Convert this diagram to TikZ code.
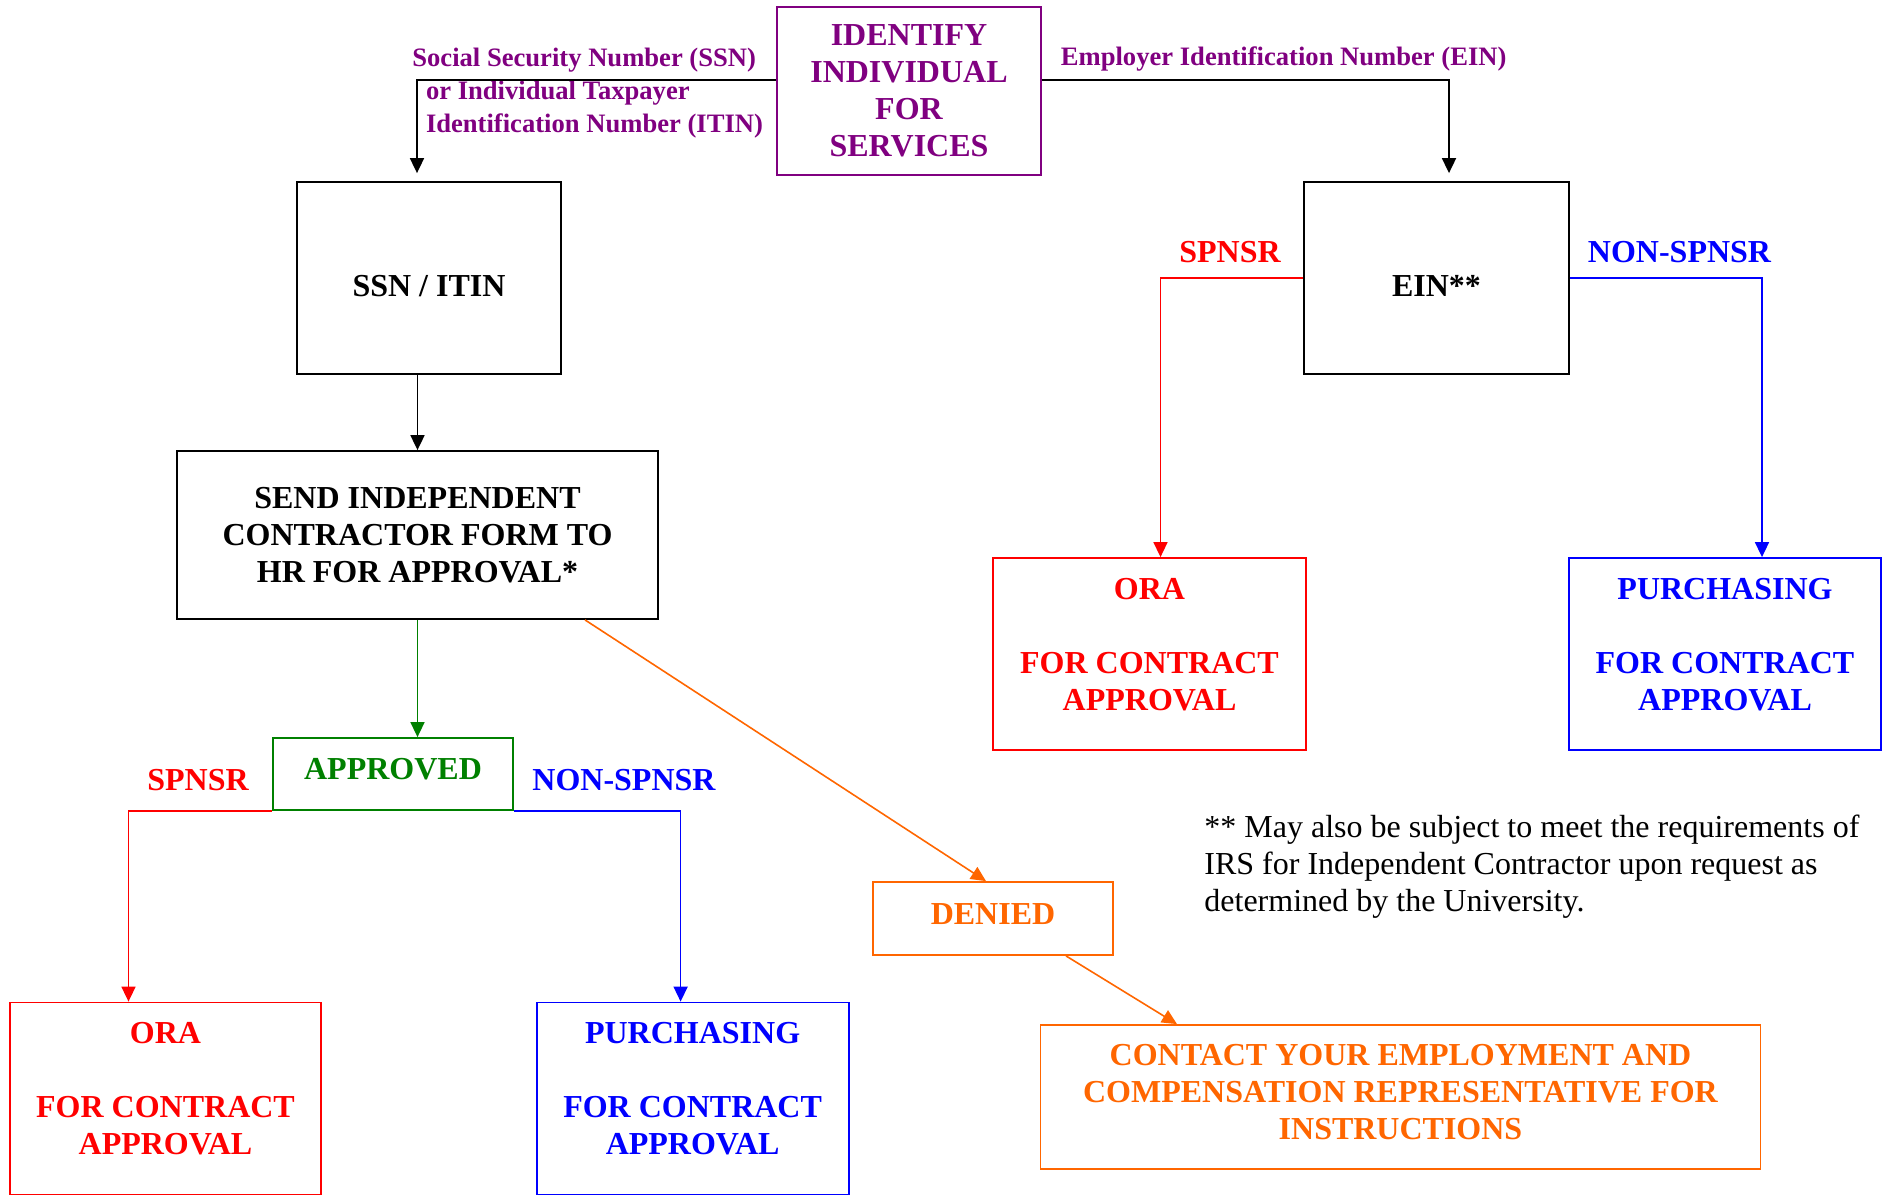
\documentclass[tikz,border=0pt]{standalone}
\usepackage{fontspec}
\setmainfont{Liberation Serif}
\usetikzlibrary{arrows.meta,calc}
\definecolor{vio}{RGB}{128,0,128}
\definecolor{rd}{RGB}{255,0,0}
\definecolor{bl}{RGB}{0,0,255}
\definecolor{gr}{RGB}{0,128,0}
\definecolor{org}{RGB}{255,102,0}
\newcommand{\lift}[2]{\raisebox{#1}[\height][\depth]{\begin{tabular}{@{}c@{}}#2\end{tabular}}}
\begin{document}
\begin{tikzpicture}[x=0.5pt,y=-0.5pt,
  box/.style={draw, line width=0.9pt, inner sep=0pt, align=center, font=\bfseries\fontsize{16}{18.5}\selectfont},
  conn/.style={line width=0.8pt, -{Triangle[length=7.5pt,width=7pt]}},
  lab/.style={inner sep=0pt, font=\bfseries\fontsize{16}{18.5}\selectfont},
  vlab/.style={inner sep=0pt, anchor=base west, text=vio, font=\bfseries\fontsize{13.3}{16}\selectfont},
  note/.style={inner sep=0pt, anchor=west, align=left, font=\fontsize{16}{18.5}\selectfont}
]
\useasboundingbox (0,0) rectangle (1885,1196);

% boxes
\node[box, draw=vio, text=vio, minimum width=132pt, minimum height=84pt] (ident) at (909,91) {IDENTIFY\\INDIVIDUAL\\FOR\\SERVICES};
\node[box, minimum width=132pt, minimum height=96pt] (ssn) at (429,278) {\lift{-5.6pt}{SSN / ITIN}};
\node[box, minimum width=132.5pt, minimum height=96pt] (ein) at (1436.5,278) {\lift{-5.6pt}{EIN**}};
\node[box, minimum width=240.5pt, minimum height=84pt] (send) at (417.5,535) {SEND INDEPENDENT\\CONTRACTOR FORM TO\\HR FOR APPROVAL*};
\node[box, draw=gr, text=gr, minimum width=120pt, minimum height=36pt] (approved) at (393,774) {\lift{0.9pt}{APPROVED}};
\node[box, draw=org, text=org, minimum width=120pt, minimum height=36.5pt] (denied) at (993,918.5) {\lift{0.7pt}{DENIED}};
\node[box, draw=rd, text=rd, minimum width=156.5pt, minimum height=96pt] (orar) at (1149.5,654) {\lift{3.4pt}{ORA\\[18.5pt]FOR CONTRACT\\APPROVAL}};
\node[box, draw=bl, text=bl, minimum width=156pt, minimum height=96pt] (purr) at (1725,654) {\lift{3.4pt}{PURCHASING\\[18.5pt]FOR CONTRACT\\APPROVAL}};
\node[box, draw=rd, text=rd, minimum width=155.5pt, minimum height=96pt] (oral) at (165.5,1098.5) {\lift{3.4pt}{ORA\\[18.5pt]FOR CONTRACT\\APPROVAL}};
\node[box, draw=bl, text=bl, minimum width=156pt, minimum height=96pt] (purl) at (692.6,1098.5) {\lift{3.4pt}{PURCHASING\\[18.5pt]FOR CONTRACT\\APPROVAL}};
\node[box, draw=org, text=org, minimum width=360pt, minimum height=72pt] (contact) at (1400.5,1097) {\lift{1.2pt}{CONTACT YOUR EMPLOYMENT AND\\COMPENSATION REPRESENTATIVE FOR\\INSTRUCTIONS}};

% labels
\node[vlab] (ssnl1) at (412,66.5) {Social Security Number (SSN)};
\node[vlab] (ssnl2) at (425.6,99.5) {or Individual Taxpayer};
\node[vlab] (ssnl3) at (425.6,132.5) {Identification Number (ITIN)};
\node[vlab] (einl) at (1060.5,65.5) {Employer Identification Number (EIN)};
\node[lab, text=rd] (spr) at (1230,251.7) {SPNSR};
\node[lab, text=bl] (nspr) at (1679.5,251.7) {NON-SPNSR};
\node[lab, text=rd] (spl) at (198,780) {SPNSR};
\node[lab, text=bl] (nspl) at (624,780) {NON-SPNSR};

\node[note] (foot) at (1204,867) {** May also be subject to meet the requirements of\\IRS for Independent Contractor upon request as\\determined by the University.};

% connectors
\draw[conn, line width=0.9pt, shorten >=4pt] ($(ident.west)+(0,-11)$) -| ($(ssn.north)+(-12,0)$);
\draw[conn, line width=0.9pt, shorten >=4pt] ($(ident.east)+(0,-11)$) -| ($(ein.north)+(12.5,0)$);
\draw[conn, line width=0.9pt] (send.north |- ssn.south) -- (send.north);
\draw[conn, gr] (send.south) -- (send.south |- approved.north);
\draw[conn, rd] (approved.south west) -| ($(oral.north)+(-37,0)$);
\draw[conn, bl] (approved.south east) -| ($(purl.north)+(-12,0)$);
\draw[conn, rd] (ein.west) -| ($(orar.north)+(11,0)$);
\draw[conn, bl] (ein.east) -| ($(purr.north)+(37,0)$);
\draw[conn, org] ($(send.south)+(167.5,0)$) -- ($(denied.north)+(-7,0)$);
\draw[conn, org] ($(denied.south)+(73,0)$) -- ($(contact.north)+(-223.5,0)$);
\end{tikzpicture}
\end{document}
